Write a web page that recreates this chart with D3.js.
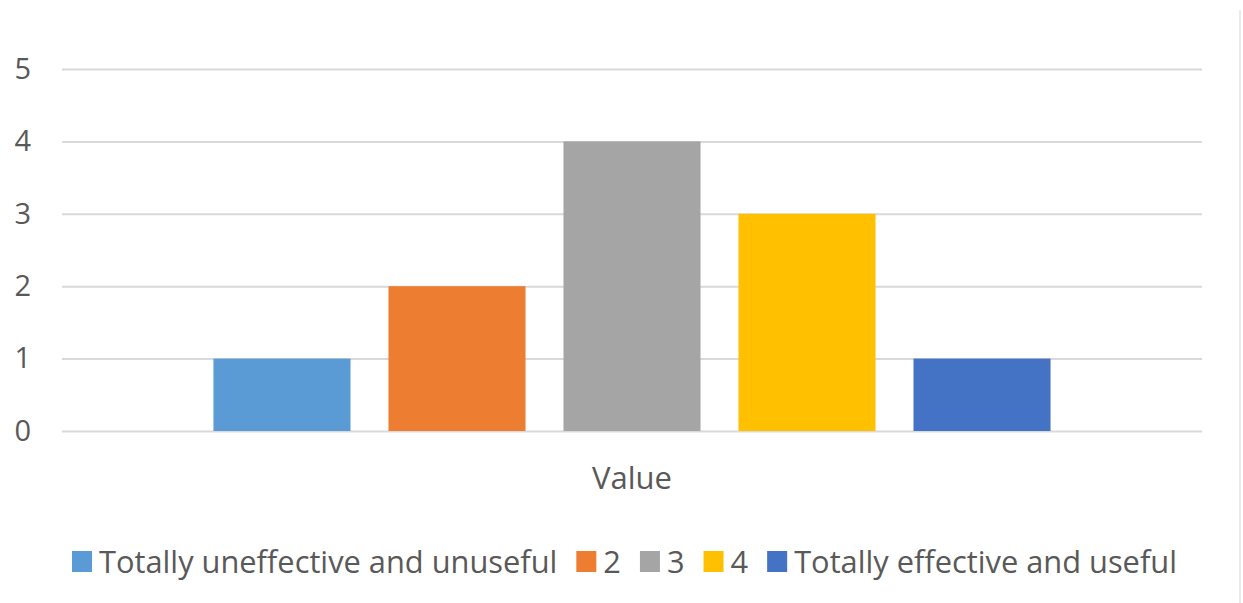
<!DOCTYPE html>
<html><head><meta charset="utf-8">
<script src="https://cdn.jsdelivr.net/npm/d3@7"></script>
<style>body{margin:0;background:#fff}svg{display:block}</style>
</head><body>
<script>
const categories = ["Value"];
const series = ["Totally uneffective and unuseful", "2", "3", "4", "Totally effective and useful"];
const values = [1, 2, 4, 3, 1];
const colors = ["#5B9BD5", "#ED7D31", "#A5A5A5", "#FFC000", "#4472C4"];
const yTicks = [0, 1, 2, 3, 4, 5];

(function () {
const W = 1243, H = 603;
const svg = d3.select("body").append("svg").attr("width", W).attr("height", H);
const font = "'Open Sans', 'Noto Sans', sans-serif";
const txt = "#595959";

const mLeft = 62, mRight = 1202, mTop = 69, mBottom = 431;
const y = d3.scaleLinear().domain([0, 5]).range([mBottom, mTop]);
const x0 = d3.scaleBand().domain(categories).range([mLeft, mRight]).paddingInner(0).paddingOuter(0.1514);
const x1 = d3.scaleBand().domain(series).range([0, x0.bandwidth()]).paddingInner(0.217).paddingOuter(0.1085);

svg.append("line").attr("x1", 1240).attr("x2", 1240).attr("y1", 10).attr("y2", H)
  .attr("stroke", "#ebebeb").attr("stroke-width", 2);

const yAxis = d3.axisLeft(y).tickValues(yTicks).tickSize(-(mRight - mLeft)).tickPadding(31).tickFormat(d3.format("d"));
const ga = svg.append("g").attr("transform", `translate(${mLeft},0)`).call(yAxis);
ga.select(".domain").remove();
ga.selectAll(".tick line").attr("stroke", "#d9d9d9").attr("stroke-width", 2);
ga.selectAll(".tick text").attr("fill", txt).style("font-family", font).style("font-size", "29px");

const g = svg.append("g").attr("transform", `translate(${x0("Value")},0)`);
g.selectAll("rect").data(series).join("rect")
  .attr("x", d => x1(d)).attr("width", x1.bandwidth())
  .attr("y", (d, i) => y(values[i])).attr("height", (d, i) => y(0) - y(values[i]))
  .attr("fill", (d, i) => colors[i]);

const xAxis = d3.axisBottom(x0).tickSize(0).tickPadding(36);
const gx = svg.append("g").attr("transform", `translate(0,${mBottom})`).call(xAxis);
gx.select(".domain").remove();
gx.selectAll(".tick text").attr("fill", txt).style("font-family", font).style("font-size", "31px");

const lg = svg.append("g");
let cx = 72;
const ly = 562;
series.forEach((s, i) => {
  lg.append("rect").attr("x", cx).attr("y", ly - 11).attr("width", 20).attr("height", 21).attr("fill", colors[i]);
  const t = lg.append("text").attr("x", cx + 27).attr("y", ly).attr("dy", "0.35em")
    .attr("fill", txt).style("font-family", font).style("font-size", "30.8px").text(s);
  cx += 27 + t.node().getComputedTextLength() + 19;
});
})();
</script>
</body></html>
